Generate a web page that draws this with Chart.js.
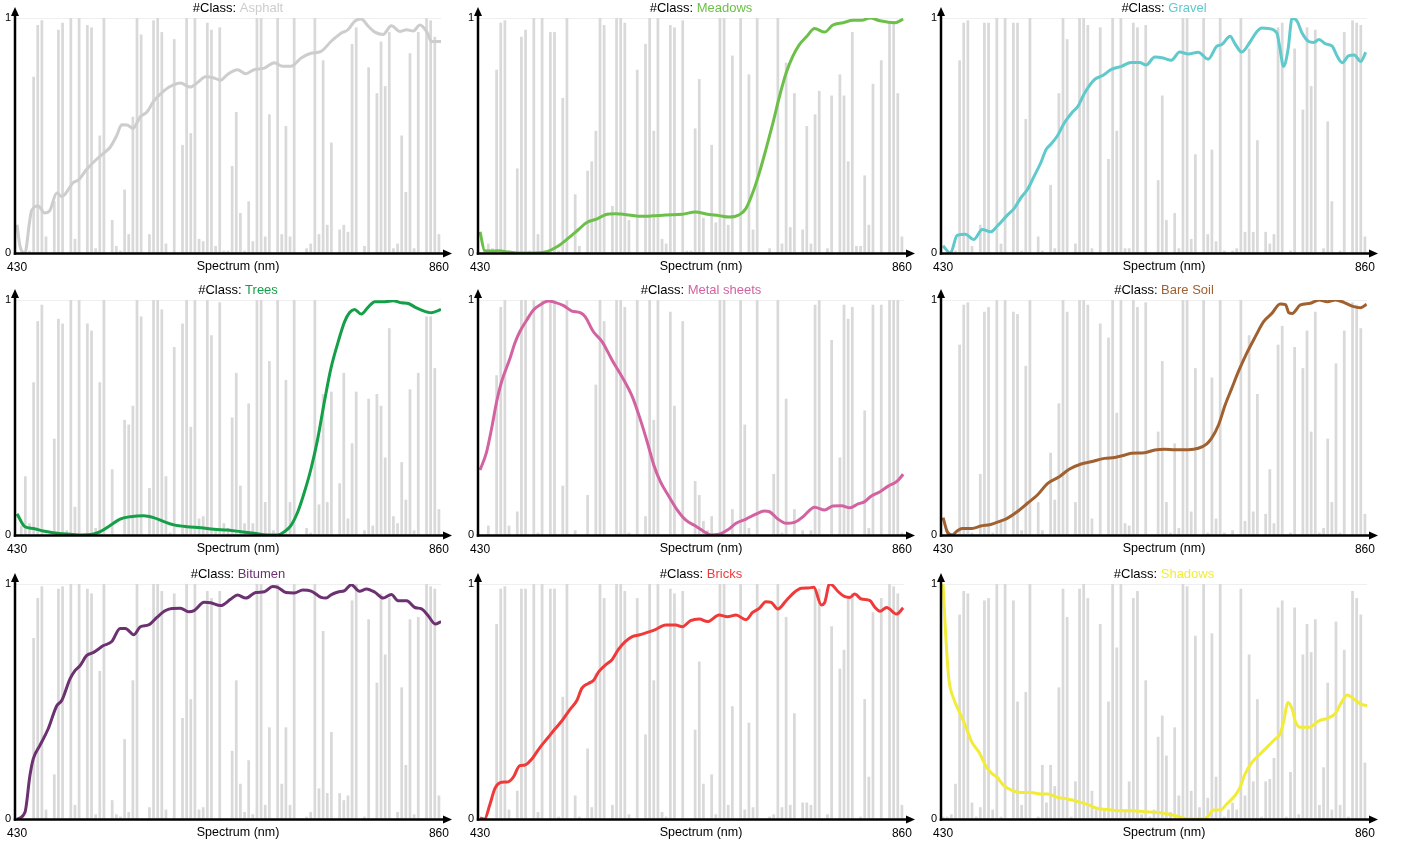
<!DOCTYPE html>
<html>
<head>
<meta charset="utf-8">
<script src="https://cdn.jsdelivr.net/npm/chart.js@4/dist/chart.umd.min.js"></script>
<style>
  body { margin: 0; background: #fff; width: 1403px; height: 844px; overflow: hidden; position: relative; }
  canvas { position: absolute; }
</style>
</head>
<body>
<script>
// band attention weights (gray bars), one value per band, 103 bands 430-860 nm
const asphaltBars = [0,0,0,0.01,0.75,0.97,0.99,0.07,0,0.22,
  0.95,0.98,0,1,0.06,1,0,0.97,0.96,0.02,
  0.5,1,0,0.14,0.03,0.01,0.27,0.08,0.58,1,
  0.93,0,0.08,0.99,1,0.94,0.04,0,0.91,0,
  0.46,1,0.51,1,0.06,0.05,0.98,0.95,0.03,0.96,
  0.01,0.01,0.37,0.6,0.17,0.01,0.22,0.05,1,1,
  0.07,0.59,0,1,0.08,0.54,0.07,1,0,0,
  0.02,0.04,1,0.08,0.82,0.12,0.47,0,0.1,0.12,
  0.09,0.89,0.96,0,0.03,0.79,0,0.68,0.9,0.71,
  0.94,0.02,0.04,0.5,0.26,0.85,0.02,0.94,0,1,
  0.99,0.92,0.08];
const meadowsBars = [0,0.01,0.04,0.02,0.78,0.98,0.99,0.01,0,0.36,
  0.92,0.95,0.01,1,0.08,1,0,0.94,0.94,0.01,
  0.66,1,0,0.25,0.03,0,0.35,0.39,0.52,1,
  0.97,0,0.2,1,1,0.98,0.14,0,0.78,0,
  0.89,1,0.52,1,0.06,0.04,0.97,0.96,0,0.99,
  0.01,0.01,0.53,0.74,0.15,0,0.46,0.13,1,1,
  0.12,0.84,0,1,0,0.76,0.1,1,0,0,
  0.02,0,1,0.04,0.81,0.11,0.68,0,0.1,0.54,
  0.04,0.59,0.69,0,0.02,0.67,0,0.76,0.67,0.39,
  0.94,0.03,0.03,0.33,0.12,0.72,0,0.82,0,0.98,
  0.98,0.68,0.07];
const gravelBars = [0,0.01,0.01,0.01,0.82,0.98,0.99,0.03,0,0.12,
  0.98,0.98,0,1,0.04,1,0,0.98,0.98,0.01,
  0.57,1,0,0.07,0.01,0,0.29,0.02,0.68,1,
  0.91,0,0.04,1,1,0.97,0.02,0,0.96,0,
  0.4,1,0.52,1,0.02,0.02,0.98,0.96,0,0.97,
  0,0,0.31,0.67,0.14,0,0.17,0.02,1,1,
  0.06,0.42,0,1,0.08,0.44,0.05,1,0.01,0,
  0.01,0.02,1,0.09,0.87,0.09,0.48,0,0.09,0.04,
  0.08,0.96,0.98,0,0.01,0.87,0,0.61,0.96,0.71,
  0.95,0,0.02,0.56,0.22,0,0.01,0.94,0,0.99,
  0.98,0.97,0.07];
const treesBars = [0,0.04,0.25,0.05,0.65,0.91,0.98,0,0,0.41,
  0.92,0.9,0.02,1,0.12,1,0,0.9,0.87,0.03,
  0.65,1,0,0.28,0,0,0.49,0.47,0.55,1,
  0.93,0,0.2,1,1,0.96,0.25,0.01,0.8,0,
  0.9,1,0.46,1,0.07,0.08,1,0.85,0.02,0.99,
  0.05,0.03,0.5,0.69,0.21,0.05,0.56,0.05,1,1,
  0.14,0.74,0.02,1,0,0.66,0.14,1,0,0,
  0.03,0.01,1,0.13,0.6,0.14,0.61,0,0.22,0.69,
  0.07,0.39,0.61,0,0.02,0.58,0.04,0.6,0.55,0.33,
  0.88,0.08,0.05,0.31,0.15,0.62,0.02,0.69,0,0.93,
  0.93,0.71,0.11];
const metalBars = [0,0,0.04,0,0.68,0.97,1,0.04,0,0.1,
  1,1,0,1,0.01,1,0,1,1,0,
  0.21,1,0,0.02,0,0,0.17,0,0.64,1,
  0.91,0,0,1,1,0.97,0.01,0,1,0,
  0.08,1,0.49,1,0,0,0.95,0.55,0,0.91,
  0,0,0.23,0.17,0.06,0.02,0.08,0,1,1,
  0,0.11,0,1,0.47,0.03,0,1,0,0,
  0,0.26,1,0.01,0.58,0,0.11,0,0.02,0,
  0.02,0.98,1,0,0,0.83,0,0.33,0.98,0.92,
  0.97,0,0,0.53,0.03,0.98,0,0.98,0,1,
  1,1,0.01];
const soilBars = [0,0.02,0,0,0.81,0.98,0.99,0.01,0,0.26,
  0.95,0.97,0.01,1,0.06,1,0,0.95,0.94,0.02,
  0.72,1,0,0.14,0.02,0,0.35,0.15,0.56,1,
  0.95,0,0.14,1,1,0.98,0.07,0,0.9,0,
  0.84,1,0.52,1,0.05,0.04,1,0.97,0,0.99,
  0,0,0.44,0.74,0.14,0.01,0.39,0.03,1,1,
  0.1,0.71,0,1,0.01,0.67,0.07,1,0.01,0,
  0.02,0,1,0.06,0.85,0.1,0.6,0,0.09,0.28,
  0.05,0.81,0.89,0,0.01,0.8,0,0.71,0.87,0.44,
  0.95,0.01,0.03,0.41,0.14,0.73,0.01,0.87,0,0.99,
  0.98,0.88,0.09];
const bitumenBars = [0,0,0,0,0.77,0.94,0.99,0.04,0,0.19,
  0.98,0.99,0,1,0.06,1,0,0.98,0.96,0.02,
  0.63,1,0,0.08,0.02,0.01,0.34,0.03,0.59,1,
  0,0,0.05,1,1,0.97,0.04,0,0.96,0,
  0.43,1,0.51,1,0.04,0.05,0.97,0.94,0,0.97,
  0,0,0.29,0.59,0.15,0.03,0.25,0.02,1,1,
  0.06,0.39,0,1,0.15,0.39,0.06,1,0,0,
  0.01,0.03,1,0.13,0.8,0.11,0.37,0,0.11,0.08,
  0.1,0.93,1,0,0.01,0.85,0,0.58,0.96,0.7,
  0.94,0,0.03,0.56,0.23,0.85,0.02,0.86,0,1,
  0.99,0.98,0.1];
const bricksBars = [0,0,0,0,0.83,0.98,0.99,0.04,0,0.12,
  0.98,0.98,0,1,0.03,1,0,0.98,0.98,0.01,
  0.52,1,0,0.1,0.01,0,0.3,0.05,0.62,1,
  0.94,0,0.06,1,1,0.97,0.02,0,0.94,0,
  0.36,1,0.59,1,0.03,0.01,0.98,0.96,0,0.97,
  0,0,0.38,0.67,0.15,0,0.19,0.02,1,1,
  0.06,0.48,0,1,0.04,0.41,0.05,1,0,0,
  0.01,0.02,1,0.05,0.86,0.06,0.45,0,0.07,0.07,
  0.06,0.98,0.98,0,0.02,0.82,0,0.64,0.72,0.95,
  0.96,0,0.01,0.51,0.18,0.88,0,0.94,0,1,
  0.99,0.96,0.06];
const shadowsBars = [0.01,0.01,0.02,0.15,0.87,0.97,0.96,0.07,0.01,0.05,
  0.93,0.94,0.04,1,0.01,1,0,0.93,0.5,0.06,
  0.54,1,0,0.01,0.23,0.07,0.23,0.14,0.56,0.98,
  0.86,0.01,0.16,0.98,1,0.94,0.12,0.04,0.83,0.04,
  0.5,1,0.73,1,0.04,0.16,0.94,0.97,0.02,0.59,
  0.01,0.04,0.35,0.44,0.27,0.03,0.39,0.1,1,0.99,
  0.12,0.78,0.05,1,0.09,0.79,0.18,1,0.01,0.04,
  0.07,0.04,0.98,0.1,0.7,0.16,0.51,0.01,0.16,0.17,
  0.26,0.9,0.93,0.01,0.2,0.9,0.02,0.7,0.83,0.71,
  0.85,0.06,0.22,0.58,0.04,0.84,0.06,0.72,0.01,0.97,
  0.94,0.87,0.24];

// normalised mean spectra, [band position, value]
const asphaltLine = [[0,0.12],[0.7,0.03],[1.9,0],[3,0.13],[3.5,0.18],[5.1,0.2],[6.7,0.17],[7.9,0.18],[9.6,0.255],[10.8,0.24],[11.6,0.25],[13.6,0.3],[14.8,0.31],[16.8,0.355],[19.3,0.4],[21.3,0.43],[22.5,0.45],[24.1,0.5],[25.3,0.546],[26.6,0.545],[28,0.53],[29.8,0.58],[31.4,0.6],[33,0.645],[35.5,0.69],[37.9,0.716],[39.5,0.723],[41.9,0.706],[43.6,0.725],[45.6,0.75],[47.6,0.745],[49.2,0.735],[50.9,0.76],[53.3,0.78],[55.3,0.763],[57.3,0.78],[59.8,0.787],[62.2,0.81],[64.2,0.795],[66.2,0.795],[68.7,0.83],[71.1,0.85],[73.5,0.858],[75.9,0.9],[78.4,0.936],[80,0.95],[81.6,0.986],[83.2,0.996],[84.9,0.965],[86.5,0.94],[88.5,0.93],[90.5,0.967],[92.5,0.943],[94.2,0.95],[95.8,0.945],[97.4,0.97],[99,0.943],[100.2,0.9],[102.5,0.9]];
const meadowsLine = [[0,0.09],[1.1,0.01],[2.8,0.008],[4.4,0.01],[6.8,0.004],[9.2,0],[12.5,0],[15.7,0.004],[18.9,0.03],[21.4,0.064],[23.8,0.1],[25.8,0.13],[28.3,0.145],[30.3,0.163],[32.7,0.167],[36,0.162],[38.4,0.156],[41.6,0.158],[44.9,0.162],[48.9,0.165],[52.1,0.175],[54.6,0.166],[57.8,0.159],[60.2,0.153],[62.7,0.163],[64.3,0.19],[65.9,0.255],[67.5,0.34],[69.1,0.44],[70.8,0.553],[72.4,0.667],[74,0.766],[75.6,0.837],[77.2,0.887],[78.9,0.92],[80.9,0.955],[83.3,0.94],[85.3,0.97],[87.8,0.98],[90.2,0.99],[92.2,0.99],[94.3,1],[96.7,0.988],[100.3,0.98],[102.3,0.995]];
const gravelLine = [[0,0.03],[1.8,0],[3.4,0.075],[5.4,0.08],[7.4,0.057],[9.5,0.1],[11.5,0.09],[13.1,0.115],[15.5,0.16],[17.2,0.19],[18.8,0.235],[20.4,0.27],[22,0.326],[23.6,0.383],[24.9,0.44],[26.1,0.464],[27.7,0.5],[29.3,0.553],[31.3,0.6],[32.6,0.624],[34.2,0.68],[36.6,0.738],[38.6,0.755],[40.6,0.78],[43.1,0.794],[45.5,0.811],[47.5,0.811],[49.1,0.8],[51.2,0.834],[53.2,0.83],[55.2,0.82],[57.2,0.855],[59.3,0.847],[61.7,0.854],[64.1,0.825],[66.2,0.88],[67.4,0.887],[69.4,0.922],[70.6,0.89],[72.2,0.855],[74.3,0.9],[75.9,0.943],[77.1,0.957],[78.7,0.955],[80.7,0.936],[81.5,0.865],[82.3,0.794],[83.4,0.865],[84.4,1],[85.6,0.986],[86.8,0.936],[88.4,0.9],[89.6,0.896],[90.9,0.908],[92.5,0.89],[94.1,0.88],[95.3,0.837],[96.5,0.81],[98.1,0.84],[99.4,0.843],[101,0.815],[102.2,0.854]];
const treesLine = [[0,0.09],[1.9,0.035],[3.9,0.028],[6.3,0.017],[8.7,0.01],[12,0.004],[15.2,0],[18.5,0.004],[20.1,0.014],[22.5,0.04],[24.9,0.068],[27.4,0.078],[30.6,0.082],[33,0.074],[35.5,0.057],[37.9,0.043],[41.1,0.035],[44.4,0.031],[47.6,0.024],[50.9,0.021],[54.1,0.014],[57.3,0.007],[60.6,0],[63,0],[64.6,0.014],[66.2,0.04],[67.9,0.1],[69.5,0.184],[71.1,0.284],[72.7,0.41],[74.3,0.567],[75.9,0.71],[77.6,0.82],[79.2,0.908],[80.4,0.947],[81.6,0.96],[83.2,0.94],[84.9,0.97],[86.5,0.993],[88.9,0.993],[90.9,0.997],[93,0.988],[94.6,0.985],[96.2,0.97],[97.8,0.957],[100.2,0.946],[102.5,0.96]];
const metalLine = [[0,0.277],[1.5,0.348],[2.8,0.454],[4,0.567],[5.2,0.652],[7.2,0.75],[8.4,0.816],[9.6,0.865],[11.3,0.915],[12.9,0.957],[14.5,0.979],[16.5,0.996],[18.1,0.99],[20.2,0.976],[22.2,0.953],[24.2,0.946],[25.4,0.929],[27.4,0.865],[29.5,0.823],[31.9,0.745],[34.3,0.674],[36.8,0.589],[38.4,0.51],[40.4,0.397],[42,0.298],[43.6,0.227],[45.7,0.163],[47.7,0.106],[49.7,0.064],[52.1,0.038],[54.2,0.014],[55.8,0],[57.8,0.003],[59.8,0.021],[61.9,0.05],[64.3,0.068],[66.7,0.089],[68.7,0.102],[70,0.099],[72,0.068],[74,0.05],[76,0.054],[78.1,0.078],[80.9,0.118],[83.3,0.106],[85.3,0.123],[87.4,0.124],[89.4,0.116],[91.4,0.132],[93,0.142],[94.6,0.166],[96.7,0.184],[98.7,0.208],[100.7,0.227],[102.3,0.258]];
const soilLine = [[0,0.074],[1,0.014],[2.2,0],[3.4,0.017],[4.6,0.028],[7,0.028],[9.1,0.038],[11.5,0.045],[13.5,0.057],[15.5,0.071],[18,0.1],[20.4,0.135],[22.8,0.17],[25.3,0.22],[28.1,0.248],[30.5,0.28],[33.4,0.302],[35.8,0.312],[39,0.326],[41.5,0.33],[43.5,0.338],[45.5,0.348],[48.7,0.35],[51.2,0.362],[53.6,0.365],[56,0.363],[59.3,0.363],[61.7,0.369],[63.7,0.387],[64.9,0.411],[66.6,0.468],[68.2,0.553],[69.8,0.624],[71.4,0.695],[73.4,0.773],[75.5,0.844],[77.5,0.908],[79.5,0.943],[81.5,0.983],[82.8,0.98],[83.6,0.946],[84.4,0.943],[86.4,0.979],[88.8,0.986],[90.9,1],[92.9,0.993],[94.9,1],[96.9,0.99],[98.9,0.974],[101,0.967],[102.4,0.982]];
const bitumenLine = [[0,0],[1.9,0.028],[3.1,0.184],[3.9,0.255],[5.5,0.312],[7.5,0.383],[9.6,0.482],[10.8,0.504],[12.8,0.596],[14,0.631],[15.2,0.652],[16.8,0.695],[18.5,0.709],[20.9,0.738],[22.9,0.755],[24.9,0.811],[26.2,0.811],[28.2,0.784],[29.8,0.818],[31.8,0.826],[33.8,0.858],[35.9,0.887],[37.5,0.896],[39.5,0.897],[41.5,0.882],[42.8,0.887],[45.2,0.922],[46.8,0.92],[49.2,0.908],[51.7,0.936],[53.3,0.953],[55.3,0.94],[57.7,0.964],[59.8,0.967],[61.8,0.989],[63,0.986],[65,0.964],[67,0.962],[69.1,0.974],[71.1,0.97],[73.5,0.943],[74.7,0.94],[76,0.955],[77.6,0.966],[79.2,0.972],[80.8,0.997],[82.8,0.969],[84.5,0.979],[86.5,0.965],[88.5,0.94],[90.5,0.955],[92.1,0.929],[94.2,0.929],[96.2,0.9],[97.8,0.894],[99.4,0.865],[101.1,0.83],[102.5,0.84]];
const bricksLine = [[0,0.004],[1.1,0],[2.3,0.057],[3.6,0.13],[5.2,0.156],[6.8,0.158],[8,0.177],[9.6,0.227],[10.9,0.23],[12.5,0.255],[14.5,0.305],[16.5,0.348],[18.1,0.383],[19.8,0.418],[21.8,0.468],[23.4,0.504],[24.6,0.556],[26.2,0.577],[27.4,0.589],[28.7,0.627],[30.3,0.655],[31.9,0.678],[33.5,0.723],[35.1,0.755],[36.8,0.776],[38.4,0.783],[40.4,0.794],[42.4,0.806],[44.9,0.826],[47.3,0.826],[48.9,0.818],[50.9,0.844],[53,0.851],[55,0.84],[57.8,0.868],[59.8,0.861],[61.9,0.868],[64.3,0.848],[65.9,0.879],[67.5,0.896],[69.1,0.925],[70.4,0.922],[72,0.894],[74,0.929],[76,0.965],[77.7,0.982],[79.3,0.983],[80.7,0.986],[82.5,0.911],[83.3,0.92],[84.5,1],[85.3,0.993],[86.6,0.967],[88.2,0.946],[89.4,0.943],[90.6,0.957],[92.2,0.936],[94.3,0.929],[95.5,0.9],[96.7,0.884],[98.3,0.9],[100.7,0.872],[102.3,0.898]];
const shadowsLine = [[0,1],[0.6,0.794],[1.4,0.596],[2.6,0.51],[3.8,0.461],[5.4,0.397],[7,0.326],[8.7,0.284],[10.3,0.227],[11.5,0.199],[13.1,0.177],[14.7,0.142],[16.8,0.121],[18.8,0.113],[21.2,0.113],[23.6,0.106],[25.3,0.106],[27.7,0.092],[30.1,0.085],[32.6,0.074],[35,0.061],[37.4,0.045],[39.8,0.04],[42.3,0.035],[45.5,0.035],[48.7,0.031],[52,0.028],[54.4,0.021],[56.8,0.011],[59.3,0],[62.5,0],[64.1,0.011],[65.3,0.038],[67,0.038],[68.6,0.064],[70.6,0.1],[71.8,0.135],[73,0.191],[74.7,0.241],[76.7,0.277],[78.7,0.312],[80.3,0.34],[81.5,0.362],[82.3,0.411],[83.4,0.496],[84.4,0.468],[85.2,0.414],[86.4,0.39],[88.4,0.39],[90.9,0.418],[92.9,0.428],[94.9,0.45],[96.1,0.489],[97.7,0.528],[99.4,0.51],[101,0.489],[102.5,0.482]];

const classNames = ['Asphalt', 'Meadows', 'Gravel', 'Trees', 'Metal sheets', 'Bare Soil', 'Bitumen', 'Bricks', 'Shadows'];
const classColors = ['#cdcdcd', '#6cc04a', '#5fc9cb', '#149f48', '#d263a0', '#a0602f', '#6b3170', '#f03a3a', '#f2ec38'];
const barSeries = [asphaltBars, meadowsBars, gravelBars, treesBars, metalBars, soilBars, bitumenBars, bricksBars, shadowsBars];
const lineSeries = [asphaltLine, meadowsLine, gravelLine, treesLine, metalLine, soilLine, bitumenLine, bricksLine, shadowsLine];
const tickIdx = [0, 102];
const tickLabels = ['430', '860'];

const FONT = '"Liberation Sans", Arial, Helvetica, sans-serif';
Chart.defaults.font.family = FONT;
Chart.defaults.color = '#000';

// axis lines with arrow heads, class title, axis title on the tick line
const decor = {
    id: 'decor',
    afterDraw(chart, args, opts) {
        const ctx = chart.ctx;
        const a = chart.chartArea;
        const y0 = a.bottom + 0.5;
        ctx.save();
        ctx.strokeStyle = '#000';
        ctx.fillStyle = '#000';
        ctx.lineWidth = 2.5;
        ctx.beginPath();
        ctx.moveTo(a.left, y0 + 1.2);
        ctx.lineTo(a.left, a.top - 4);
        ctx.stroke();
        ctx.beginPath();
        ctx.moveTo(a.left, a.top - 11);
        ctx.lineTo(a.left - 4, a.top - 2);
        ctx.lineTo(a.left + 4, a.top - 2);
        ctx.closePath();
        ctx.fill();
        ctx.beginPath();
        ctx.moveTo(a.left - 1.2, y0);
        ctx.lineTo(a.right + 4, y0);
        ctx.stroke();
        ctx.beginPath();
        ctx.moveTo(a.right + 11, y0);
        ctx.lineTo(a.right + 2, y0 - 4);
        ctx.lineTo(a.right + 2, y0 + 4);
        ctx.closePath();
        ctx.fill();

        const cx = a.left + 223;
        ctx.textBaseline = 'middle';
        ctx.textAlign = 'center';
        ctx.font = '12.5px ' + FONT;
        ctx.fillText('Spectrum (nm)', cx, a.bottom + 13.5);

        ctx.font = '13px ' + FONT;
        const head = '#Class: ';
        const w1 = ctx.measureText(head).width;
        const w2 = ctx.measureText(opts.name).width;
        const x = cx - (w1 + w2) / 2;
        ctx.textAlign = 'left';
        ctx.fillText(head, x, a.top - 9.5);
        ctx.fillStyle = opts.color;
        ctx.fillText(opts.name, x + w1, a.top - 9.5);
        ctx.restore();
    }
};

const colLeft = [0, 463, 926];
const rowTop = [0, 282, 566];

classNames.forEach((name, k) => {
    const canvas = document.createElement('canvas');
    canvas.width = 467;
    canvas.height = 282;
    canvas.style.left = colLeft[k % 3] + 'px';
    canvas.style.top = rowTop[Math.floor(k / 3)] + 'px';
    document.body.appendChild(canvas);

    new Chart(canvas, {
        type: 'bar',
        data: {
            datasets: [
                {
                    type: 'line',
                    data: lineSeries[k].map(p => ({ x: p[0], y: p[1] })),
                    borderColor: classColors[k],
                    borderWidth: 3,
                    pointRadius: 0,
                    cubicInterpolationMode: 'monotone',
                    order: 0
                },
                {
                    type: 'bar',
                    data: barSeries[k].map((v, i) => ({ x: i, y: v })),
                    backgroundColor: '#d9d9d9',
                    barPercentage: 0.66,
                    categoryPercentage: 1,
                    order: 1
                }
            ]
        },
        options: {
            responsive: false,
            animation: false,
            devicePixelRatio: 1,
            layout: { padding: { top: 18, right: 26, bottom: 2, left: 0 } },
            plugins: {
                legend: { display: false },
                tooltip: { enabled: false },
                decor: { name: name, color: classColors[k] }
            },
            scales: {
                x: {
                    type: 'linear',
                    min: -0.5,
                    max: 102.5,
                    offset: false,
                    grid: { display: false },
                    border: { display: false },
                    afterBuildTicks: s => { s.ticks = tickIdx.map(v => ({ value: v })); },
                    afterFit: s => { s.height = 27; s.paddingLeft = 0; s.paddingRight = 0; },
                    ticks: {
                        autoSkip: false,
                        maxRotation: 0,
                        padding: -1,
                        color: '#000',
                        font: { size: 12 },
                        callback: v => tickLabels[tickIdx.indexOf(v)]
                    }
                },
                y: {
                    min: 0,
                    max: 1,
                    grid: {
                        drawTicks: false,
                        color: c => c.tick && c.tick.value === 1 ? '#efefef' : 'rgba(0,0,0,0)'
                    },
                    border: { display: false },
                    afterBuildTicks: s => { s.ticks = [{ value: 0 }, { value: 1 }]; },
                    afterFit: s => { s.width = 15; },
                    ticks: {
                        padding: 4,
                        color: '#000',
                        font: { size: 11 },
                        callback: v => String(v)
                    }
                }
            }
        },
        plugins: [decor]
    });
});
</script>
</body>
</html>
